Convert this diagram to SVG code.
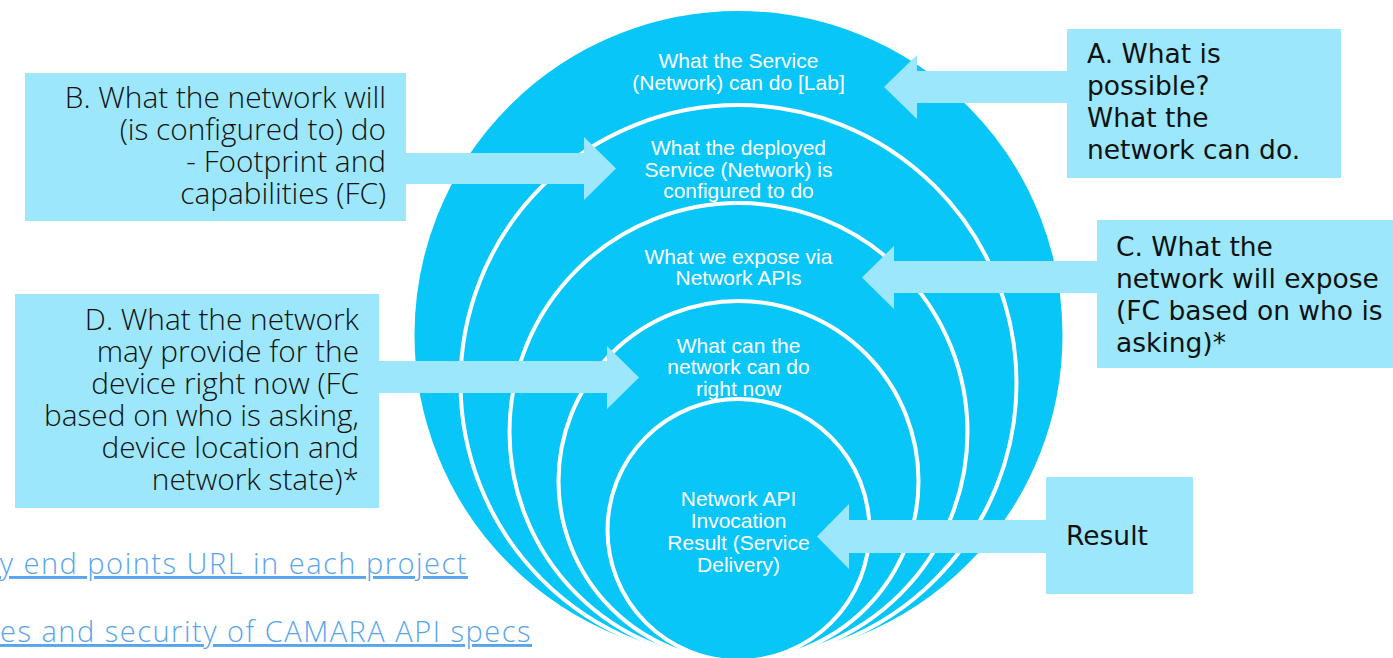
<svg xmlns="http://www.w3.org/2000/svg" width="1393" height="658" viewBox="0 0 1393 658">
  <style>
    .ring { fill: #09c6f9; stroke: #ffffff; stroke-width: 4; }
    .box { fill: #9ce7fb; }
    .arrow { fill: #9ce7fb; }
    .inner { font-family: "Liberation Sans", Arial, sans-serif; font-size: 21px; fill: #ffffff; text-anchor: middle; }
    .lbl { font-family: "DejaVu Sans", "Noto Sans", sans-serif; font-size: 26.5px; fill: #111111; }
    .lbl-r { font-family: "Open Sans", "Noto Sans", sans-serif; font-weight: 350; font-size: 29.8px; fill: #111111; text-anchor: end; }
    .link { font-family: "Open Sans", "Noto Sans", sans-serif; font-weight: 300; font-size: 29px; letter-spacing: 1.5px; fill: #58a5ee; text-anchor: end; text-decoration: underline; }
  </style>

  <!-- background links -->
  <g id="links">
    <text class="link" x="468" y="574">y end points URL in each project</text>
    <text class="link" x="532" y="642">es and security of CAMARA API specs</text>
  </g>

  <!-- nested layers, all touching at the bottom -->
  <g id="layer-lab">
    <circle class="ring" cx="738.5" cy="335" r="326"/>
    <text class="inner" x="738.5" y="68">What the Service</text>
    <text class="inner" x="738.5" y="90">(Network) can do [Lab]</text>
  </g>
  <g id="layer-deployed">
    <circle class="ring" cx="738.5" cy="383" r="278"/>
    <text class="inner" x="738.5" y="155">What the deployed</text>
    <text class="inner" x="738.5" y="176.5">Service (Network) is</text>
    <text class="inner" x="738.5" y="198">configured to do</text>
  </g>
  <g id="layer-exposed">
    <circle class="ring" cx="738.5" cy="432" r="229"/>
    <text class="inner" x="738.5" y="263.5">What we expose via</text>
    <text class="inner" x="738.5" y="285">Network APIs</text>
  </g>
  <g id="layer-now">
    <circle class="ring" cx="738.5" cy="481" r="180"/>
    <text class="inner" x="738.5" y="352.5">What can the</text>
    <text class="inner" x="738.5" y="374">network can do</text>
    <text class="inner" x="738.5" y="395.5">right now</text>
  </g>
  <g id="layer-result">
    <circle class="ring" cx="738.5" cy="530" r="131"/>
    <text class="inner" x="738.5" y="506">Network API</text>
    <text class="inner" x="738.5" y="528">Invocation</text>
    <text class="inner" x="738.5" y="550">Result (Service</text>
    <text class="inner" x="738.5" y="571.5">Delivery)</text>
  </g>

  <!-- block arrows -->
  <g id="connectors">
    <polygon class="arrow" points="1068,71 917,71 917,55 884,87 917,119 917,103 1068,103"/>
    <polygon class="arrow" points="404,153 584,153 584,137 616,168.5 584,200 584,184 404,184"/>
    <polygon class="arrow" points="1098,261 894,261 894,246 862,277.5 894,309 894,293 1098,293"/>
    <polygon class="arrow" points="378,361 607,361 607,346 639,377.5 607,409 607,393 378,393"/>
    <polygon class="arrow" points="1047,520 849,520 849,504 817,536.5 849,569 849,553 1047,553"/>
  </g>

  <g id="box-a">
    <rect class="box" x="1067" y="29" width="274" height="149"/>
    <text class="lbl" x="1087" y="63">A. What is</text>
    <text class="lbl" x="1087" y="95">possible?</text>
    <text class="lbl" x="1087" y="127">What the</text>
    <text class="lbl" x="1087" y="159">network can do.</text>
  </g>

  <g id="box-b">
    <rect class="box" x="25" y="73" width="381" height="148"/>
    <text class="lbl-r" x="386" y="108">B. What the network will</text>
    <text class="lbl-r" x="386" y="140">(is configured to) do</text>
    <text class="lbl-r" x="386" y="172">- Footprint and</text>
    <text class="lbl-r" x="386" y="204">capabilities (FC)</text>
  </g>

  <g id="box-c">
    <rect class="box" x="1097" y="220" width="296" height="148"/>
    <text class="lbl" x="1116" y="256">C. What the</text>
    <text class="lbl" x="1116" y="288">network will expose</text>
    <text class="lbl" x="1116" y="320">(FC based on who is</text>
    <text class="lbl" x="1116" y="352">asking)*</text>
  </g>

  <g id="box-d">
    <rect class="box" x="15" y="294" width="364" height="214"/>
    <text class="lbl-r" x="359" y="330">D. What the network</text>
    <text class="lbl-r" x="359" y="362">may provide for the</text>
    <text class="lbl-r" x="359" y="394">device right now (FC</text>
    <text class="lbl-r" x="359" y="426">based on who is asking,</text>
    <text class="lbl-r" x="359" y="458">device location and</text>
    <text class="lbl-r" x="359" y="490">network state)*</text>
  </g>

  <g id="box-result">
    <rect class="box" x="1046" y="477" width="147" height="117"/>
    <text class="lbl" x="1066" y="545">Result</text>
  </g>
</svg>
